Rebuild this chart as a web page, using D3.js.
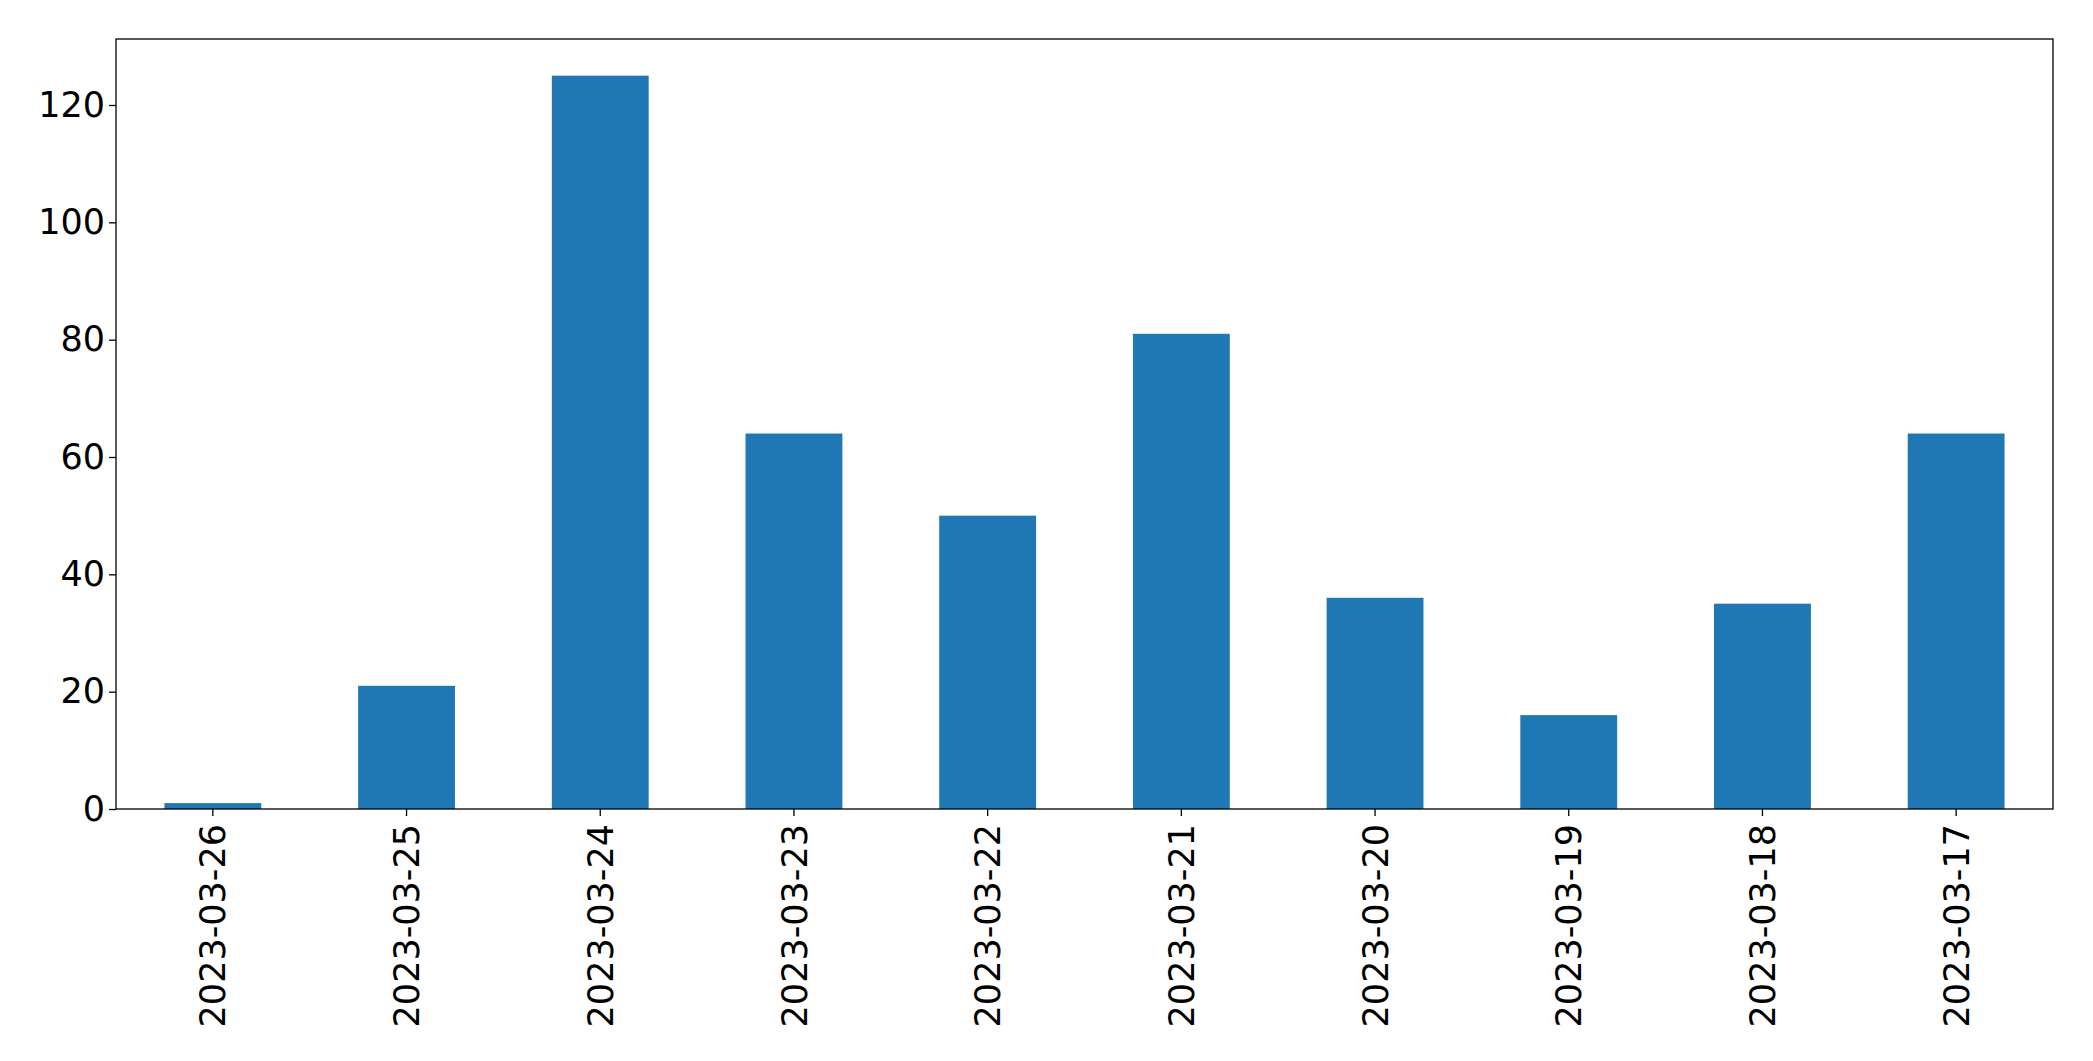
<!DOCTYPE html>
<html>
<head>
<meta charset="utf-8">
<script src="https://cdn.jsdelivr.net/npm/d3@7"></script>
<style>
  html, body { margin: 0; padding: 0; background: #fff; }
  svg { display: block; }
  text { font-family: "DejaVu Sans", sans-serif; fill: #000; }
</style>
</head>
<body>
<svg id="chart" width="2093" height="1061"></svg>
<script>
const categories = ["2023-03-26","2023-03-25","2023-03-24","2023-03-23","2023-03-22","2023-03-21","2023-03-20","2023-03-19","2023-03-18","2023-03-17"];
const values = [1, 21, 125, 64, 50, 81, 36, 16, 35, 64];
const yTicks = [0, 20, 40, 60, 80, 100, 120];

const W = 2093, H = 1061;
const margin = { left: 116, right: W - 2053, top: 39, bottom: H - 809 };
const innerW = W - margin.left - margin.right;
const innerH = H - margin.top - margin.bottom;
const fontSize = 35;

const svg = d3.select("#chart");
const g = svg.append("g").attr("transform", `translate(${margin.left},${margin.top})`);

const x = d3.scaleBand().domain(categories).range([0, innerW]).paddingInner(0.5).paddingOuter(0.25);
const y = d3.scaleLinear().domain([0, d3.max(values) * 1.05]).range([innerH, 0]);

g.selectAll("rect.bar")
  .data(values)
  .join("rect")
  .attr("class", "bar")
  .attr("x", (d, i) => x(categories[i]))
  .attr("width", x.bandwidth())
  .attr("y", d => y(d))
  .attr("height", d => y(0) - y(d))
  .attr("fill", "#1f77b4");

// Y axis
const yAxis = g.append("g")
  .call(d3.axisLeft(y).tickValues(yTicks).tickSize(7).tickPadding(4).tickFormat(d3.format("d")));
yAxis.select(".domain").remove();
yAxis.selectAll(".tick line").attr("stroke", "#000").attr("stroke-width", 1.3);
yAxis.selectAll(".tick text").style("font-size", fontSize + "px").style("font-family", "DejaVu Sans").attr("fill", "#000");

// X axis
const xAxis = g.append("g").attr("transform", `translate(0,${innerH})`)
  .call(d3.axisBottom(x).tickSize(7).tickPadding(5));
xAxis.select(".domain").remove();
xAxis.selectAll(".tick line").attr("stroke", "#000").attr("stroke-width", 1.3);
xAxis.selectAll(".tick text")
  .style("font-size", fontSize + "px")
  .style("font-family", "DejaVu Sans")
  .attr("fill", "#000")
  .attr("text-anchor", "end")
  .attr("x", 0)
  .attr("y", 0)
  .attr("dy", "0.36em")
  .attr("transform", "translate(0,15) rotate(-90)");

// Frame (spines)
g.append("rect")
  .attr("x", 0).attr("y", 0)
  .attr("width", innerW).attr("height", innerH)
  .attr("fill", "none")
  .attr("stroke", "#000")
  .attr("stroke-width", 1.3);
</script>
</body>
</html>
